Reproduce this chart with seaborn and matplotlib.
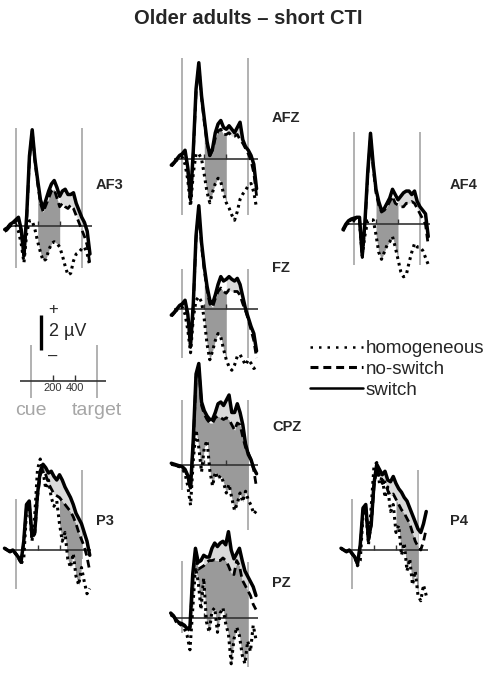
import numpy as np
import matplotlib
matplotlib.use("Agg")
import matplotlib.pyplot as plt
from matplotlib.lines import Line2D
import seaborn as sns

sns.set_style("white")
plt.rcParams['font.family'] = ['Liberation Sans', 'DejaVu Sans']

# --- data: grand-average ERPs (µV), time in ms relative to cue onset ---
t = np.arange(-100, 700, 25)
conditions = ["homogeneous", "no-switch", "switch"]

af3_hom = [-0.3, -0.2, 0.0, 0.1, 0.1, -0.3, -1.0, -2.1, -0.4, 0.3, 0.3, -0.2, -0.9, -1.5, -2.0, -1.9,
           -1.4, -1.0, -0.9, -1.0, -1.2, -1.7, -2.3, -2.8, -2.7, -2.0, -1.6, -1.5, -1.3, -1.2, -1.6, -2.3]
af3_nos = [-0.3, -0.2, 0.0, 0.1, 0.25, 0.4, -0.3, -1.8, 0.4, 3.8, 5.4, 3.7, 2.4, 1.3, 0.8, 1.2,
           1.6, 2.0, 2.1, 1.6, 1.1, 1.3, 1.1, 1.0, 1.2, 1.0, 0.6, 0.2, -0.2, -0.6, -1.1, -2.2]
af3_sw = [-0.2, -0.1, 0.1, 0.2, 0.35, 0.5, -0.2, -1.7, 0.6, 4.0, 5.5, 3.8, 2.6, 1.5, 1.0, 1.5,
          2.0, 2.4, 2.6, 2.2, 1.7, 2.0, 2.1, 1.8, 1.8, 1.9, 1.3, 0.9, 0.5, 0.2, -0.3, -1.6]

afz_hom = [-0.4, -0.25, -0.05, 0.1, 0.1, -0.3, -1.2, -2.7, -0.8, 0.3, 0.3, 0.0, -0.9, -1.9, -2.5, -1.9,
           -1.4, -1.1, -1.3, -2.0, -2.5, -2.8, -3.2, -3.5, -3.0, -2.3, -2.0, -1.8, -1.5, -1.4, -1.9, -2.8]
afz_nos = [-0.4, -0.25, -0.05, 0.15, 0.25, 0.4, -0.6, -2.4, 0.3, 3.8, 5.3, 3.5, 2.1, 0.9, 0.2, 0.5,
           1.2, 1.6, 1.7, 1.4, 1.4, 1.5, 1.3, 1.3, 1.4, 1.1, 0.9, 0.6, 0.3, -0.1, -0.8, -2.1]
afz_sw = [-0.35, -0.2, 0.0, 0.2, 0.3, 0.5, -0.5, -2.3, 0.5, 4.0, 5.5, 3.6, 2.3, 1.0, 0.2, 0.6,
          1.5, 2.0, 2.2, 1.8, 1.7, 1.9, 1.7, 1.5, 1.8, 2.1, 1.1, 0.7, 0.5, 0.2, -0.3, -1.7]

af4_hom = [-0.3, -0.1, 0.1, 0.2, 0.2, 0.1, 0.1, -1.8, -0.6, 0.2, 0.25, 0.25, -0.6, -1.6, -2.0, -1.6,
           -1.2, -1.0, -0.7, -1.3, -2.0, -2.7, -3.0, -2.9, -2.2, -1.6, -1.1, -1.3, -1.3, -1.5, -1.9, -2.3]
af4_nos = [-0.4, -0.1, 0.15, 0.25, 0.3, 0.35, 0.3, -1.9, 0.0, 2.8, 5.0, 3.2, 1.8, 1.1, 0.7, 0.8,
           1.0, 1.3, 1.6, 1.2, 1.1, 1.0, 1.0, 1.2, 1.2, 1.3, 1.2, 0.9, 0.6, 0.3, 0.0, -1.2]
af4_sw = [-0.3, 0.0, 0.2, 0.3, 0.35, 0.4, 0.4, -1.8, 0.2, 3.0, 5.2, 3.4, 2.0, 1.3, 0.8, 0.9,
          1.2, 1.5, 2.0, 1.7, 1.4, 1.6, 1.8, 1.9, 1.9, 1.7, 1.9, 1.3, 1.0, 0.8, 0.6, -0.7]

fz_hom = [-0.4, -0.25, -0.05, 0.1, 0.1, -0.3, -1.2, -2.5, -0.5, 0.5, 0.7, 0.4, -0.6, -2.0, -2.9, -2.4,
          -1.8, -1.4, -1.6, -2.3, -2.9, -3.3, -3.5, -3.2, -2.7, -2.6, -2.9, -3.2, -2.9, -3.1, -3.4, -3.3]
fz_nos = [-0.4, -0.25, -0.05, 0.15, 0.25, 0.4, -0.4, -2.2, 0.2, 4.0, 5.7, 3.6, 2.2, 1.1, 0.3, 0.1,
          0.6, 1.0, 1.2, 1.0, 0.9, 1.1, 1.0, 1.0, 1.0, 0.8, 0.3, -0.1, -0.6, -1.2, -1.8, -2.8]
fz_sw = [-0.35, -0.2, 0.0, 0.2, 0.3, 0.5, -0.3, -2.1, 0.3, 4.2, 5.9, 3.8, 2.4, 1.3, 0.5, 0.3,
         0.8, 1.4, 1.85, 1.6, 1.7, 1.85, 1.7, 1.6, 1.75, 1.4, 0.7, 0.0, -0.5, -1.0, -1.4, -2.4]

cpz_hom = [0.05, 0.0, -0.05, -0.1, -0.2, -0.5, -1.2, -2.3, 0.3, 2.0, 1.0, -0.4, 1.0, 1.4, -0.3, -1.2,
           -0.4, -0.8, -0.6, -1.0, -1.6, -1.1, -1.9, -2.6, -2.2, -1.6, -2.1, -1.5, -2.0, -2.3, -2.8, -2.6]
cpz_nos = [0.05, 0.0, -0.05, -0.1, -0.15, -0.3, -0.7, -1.4, 1.3, 5.0, 5.6, 3.4, 2.9, 2.6, 2.4, 2.4,
           2.7, 2.8, 2.7, 2.6, 2.7, 2.6, 2.3, 2.0, 2.4, 2.3, 1.6, 1.0, 0.7, 0.3, -0.3, -1.3]
cpz_sw = [0.1, 0.05, 0.0, -0.05, -0.1, -0.25, -0.6, -1.3, 1.5, 5.2, 5.8, 3.6, 3.1, 2.8, 2.6, 2.6,
          3.0, 3.5, 3.6, 3.4, 3.7, 4.0, 3.0, 3.0, 3.5, 3.0, 2.3, 1.2, 0.6, 0.3, -0.2, -0.5]

p3_hom = [0.1, 0.0, -0.1, 0.0, -0.2, -0.4, -0.8, -0.5, 2.2, 2.5, 0.5, 2.0, 4.6, 5.2, 4.5, 3.5,
          4.0, 3.0, 2.5, 2.8, 1.5, 0.5, 1.0, -0.5, -1.0, -0.2, -1.5, -2.0, -1.0, -1.8, -2.5, -2.2]
p3_nos = [0.1, 0.0, -0.1, 0.0, -0.2, -0.4, -0.7, 0.4, 2.5, 2.7, 0.7, 0.9, 3.0, 4.3, 4.6, 4.3,
          3.8, 3.5, 3.2, 3.1, 3.0, 2.8, 2.6, 2.4, 2.2, 1.9, 1.5, 1.0, 0.6, 0.2, -0.4, -1.2]
p3_sw = [0.1, 0.0, -0.1, 0.0, -0.2, -0.4, -0.7, 0.5, 2.6, 2.8, 0.8, 1.0, 3.2, 4.5, 4.9, 4.7,
         4.4, 4.5, 4.2, 4.0, 4.3, 4.0, 3.6, 3.3, 3.0, 2.6, 2.1, 1.8, 1.5, 1.0, 0.5, -0.3]

p4_hom = [0.1, 0.0, -0.1, 0.0, -0.2, -0.4, -0.9, -0.6, 2.0, 2.3, 0.3, 2.5, 4.8, 5.0, 3.8, 4.2,
          3.0, 3.6, 2.2, 2.6, 1.0, 1.4, -0.3, 0.4, -1.2, -0.5, -2.0, -1.2, -2.6, -2.9, -2.0, -2.6]
p4_nos = [0.1, 0.0, -0.1, 0.0, -0.2, -0.4, -0.8, 0.2, 2.3, 2.5, 0.5, 1.4, 3.6, 4.7, 4.2, 3.8,
          3.9, 3.4, 3.1, 3.2, 2.9, 2.6, 2.3, 2.1, 1.8, 1.5, 1.0, 0.5, 0.2, 0.0, 0.5, 1.2]
p4_sw = [0.1, 0.0, -0.1, 0.0, -0.2, -0.4, -0.8, 0.3, 2.4, 2.6, 0.6, 1.5, 3.8, 4.9, 4.6, 4.3,
         4.5, 4.0, 3.9, 4.2, 3.8, 3.5, 3.3, 3.0, 2.8, 2.4, 2.0, 1.6, 1.2, 1.0, 1.5, 2.2]

pz_hom = [0.2, 0.1, -0.2, -0.3, -0.4, -0.6, -1.0, -1.8, 0.5, 2.9, 2.1, 0.5, 2.3, -0.2, -0.8, 0.4,
          0.6, -0.8, 0.3, 0.6, -0.3, -0.9, -2.6, -1.2, -0.5, -1.0, -2.1, -2.6, -1.3, -1.9, -0.4, -1.2]
pz_nos = [0.25, 0.1, -0.15, -0.3, -0.35, -0.45, -0.7, -0.6, 2.3, 3.8, 2.8, 2.9, 3.0, 3.2, 3.3, 3.3,
          3.35, 3.3, 3.3, 3.45, 3.3, 3.0, 2.6, 2.5, 3.3, 3.0, 2.2, 1.9, 1.6, 1.3, 0.8, 0.5]
pz_sw = [0.3, 0.15, -0.1, -0.25, -0.3, -0.4, -0.6, -0.5, 2.5, 4.0, 3.2, 3.3, 3.6, 3.5, 3.5, 4.0,
         4.3, 4.1, 4.3, 4.4, 4.2, 4.95, 3.9, 3.4, 3.7, 4.0, 3.3, 2.7, 2.4, 2.1, 1.8, 1.3]

# shaded windows (ms): dark = homogeneous vs no-switch, light = no-switch vs switch
# panel: (name, hom, nos, sw, dark window, light window)
panels = [
    ("AF3", af3_hom, af3_nos, af3_sw, (200, 400), (400, 600)),
    ("AFZ", afz_hom, afz_nos, afz_sw, (200, 400), (400, 600)),
    ("AF4", af4_hom, af4_nos, af4_sw, (200, 400), (400, 600)),
    ("FZ", fz_hom, fz_nos, fz_sw, (200, 400), (400, 600)),
    ("CPZ", cpz_hom, cpz_nos, cpz_sw, (100, 600), (300, 600)),
    ("P3", p3_hom, p3_nos, p3_sw, (400, 600), (200, 600)),
    ("P4", p4_hom, p4_nos, p4_sw, (400, 600), (200, 600)),
    ("PZ", pz_hom, pz_nos, pz_sw, (100, 600), (200, 600)),
]

# --- layout (pixels): cue line x, baseline y, label pos, cue/target line extents (µV) ---
layout = {
    "AF3": dict(cue=15.7, base=226, lab=(96, 185), cue_v=(-2.4, 5.6), tgt_v=(-2.4, 5.6)),
    "AFZ": dict(cue=182.3, base=159, lab=(272, 118), cue_v=(-3.2, 5.8), tgt_v=(-3.2, 5.8)),
    "AF4": dict(cue=354, base=224.3, lab=(450, 185), cue_v=(-2.3, 5.3), tgt_v=(-2.3, 5.3)),
    "FZ": dict(cue=182.3, base=309, lab=(272, 268), cue_v=(-2.8, 2.3), tgt_v=(-2.8, 2.3)),
    "CPZ": dict(cue=182.3, base=465, lab=(272, 427), cue_v=(-1.4, 3.7), tgt_v=(-3.7, 3.7)),
    "P3": dict(cue=15.5, base=550, lab=(96, 521), cue_v=(-2.2, 2.9), tgt_v=(-0.5, 4.6)),
    "P4": dict(cue=352, base=550, lab=(450, 521), cue_v=(-2.2, 2.9), tgt_v=(-2.2, 4.6)),
    "PZ": dict(cue=181.7, base=618.3, lab=(272, 583), cue_v=(-0.85, 3.3), tgt_v=(-2.8, 3.2)),
}

W, H = 496, 675
PX_MS, PX_UV = 0.11, 17.5
T0, T1 = -150, 750
V0, V1 = -4.5, 7.0
TARGET = 600

GREY_LINE = '#ababab'
DARK_FILL = '#9a9a9a'
LIGHT_FILL = '#dadada'
styles = {
    "homogeneous": dict(lw=2.2, ls=(0, (0.9, 1.3))),
    "no-switch": dict(lw=2.0, ls=(0, (2.8, 1.6))),
    "switch": dict(lw=2.5, ls='-'),
}

fig = plt.figure(figsize=(W / 100, H / 100), dpi=100)


def panel_ax(cue_x, base_y):
    left = (cue_x + T0 * PX_MS) / W
    bottom = 1 - (base_y - V0 * PX_UV) / H
    ax = fig.add_axes([left, bottom, (T1 - T0) * PX_MS / W, (V1 - V0) * PX_UV / H])
    ax.set_xlim(T0, T1)
    ax.set_ylim(V0, V1)
    ax.axis('off')
    ax.patch.set_alpha(0)
    return ax


for name, hom, nos, sw, dark_win, light_win in panels:
    lay = layout[name]
    ax = panel_ax(lay["cue"], lay["base"])
    hom, nos, sw = np.array(hom), np.array(nos), np.array(sw)

    ax.vlines(0, *lay["cue_v"], color=GREY_LINE, lw=1.3, zorder=1)
    ax.vlines(TARGET, *lay["tgt_v"], color=GREY_LINE, lw=1.3, zorder=1)

    m = (t >= dark_win[0]) & (t <= dark_win[1])
    ax.fill_between(t, hom, nos, where=m, color=DARK_FILL, lw=0, zorder=2)
    m = (t >= light_win[0]) & (t <= light_win[1])
    ax.fill_between(t, nos, sw, where=m, color=LIGHT_FILL, lw=0, zorder=2)

    ax.hlines(0, -80, 690, color='#333333', lw=1.2, zorder=3)
    ax.vlines([200, 400], 0, 0.3, color='#333333', lw=1.0, zorder=3)

    for cond, vals, z in zip(conditions, [hom, nos, sw], [4, 5, 6]):
        sns.lineplot(x=t, y=vals, ax=ax, color='black', lw=styles[cond]["lw"],
                     linestyle=styles[cond]["ls"], zorder=z, clip_on=False)
    ax.set_xlim(T0, T1)
    ax.set_ylim(V0, V1)
    ax.axis('off')

    fig.text(lay["lab"][0] / W, 1 - lay["lab"][1] / H, name, fontsize=10.5, fontweight='bold',
             ha='left', va='center')

# --- calibration inset ---
ax = panel_ax(30.7, 381)
ax.vlines([0, TARGET], -0.97, 2.06, color=GREY_LINE, lw=1.3)
ax.hlines(0, -97, 685, color='#333333', lw=1.2)
ax.vlines([200, 400], 0, 0.34, color='#333333', lw=1.0)
for tick in [200, 400]:
    ax.text(tick, -0.4, str(tick), fontsize=8, ha='center', va='center', color='#333333')
ax.vlines(94, 1.77, 3.77, color='black', lw=2.4)
ax.text(205, 4.06, '+', fontsize=12, ha='center', va='center')
ax.text(166, 2.8, '2 µV', fontsize=13, ha='left', va='center')
ax.text(200, 1.39, '–', fontsize=12, ha='center', va='center')
ax.text(0, -1.66, 'cue', fontsize=14, ha='center', va='center', color='#a6a6a6')
ax.text(TARGET, -1.66, 'target', fontsize=14, ha='center', va='center', color='#a6a6a6')

# --- legend ---
handles = [
    Line2D([], [], color='black', lw=1.8, ls=(0, (1, 2.4))),
    Line2D([], [], color='black', lw=2.2, ls=(0, (2.6, 1.6))),
    Line2D([], [], color='black', lw=1.8, ls='-'),
]
fig.legend(handles, conditions, loc='upper left', bbox_to_anchor=(310 / W, 1 - 340 / H),
           frameon=False, fontsize=13.5, handlelength=2.8, handletextpad=0.15,
           labelspacing=0.2, borderpad=0, borderaxespad=0)

fig.text(248 / W, 1 - 18 / H, 'Older adults – short CTI', fontsize=14.5, fontweight='bold',
         ha='center', va='center')

fig.savefig('out.png', dpi=100)
